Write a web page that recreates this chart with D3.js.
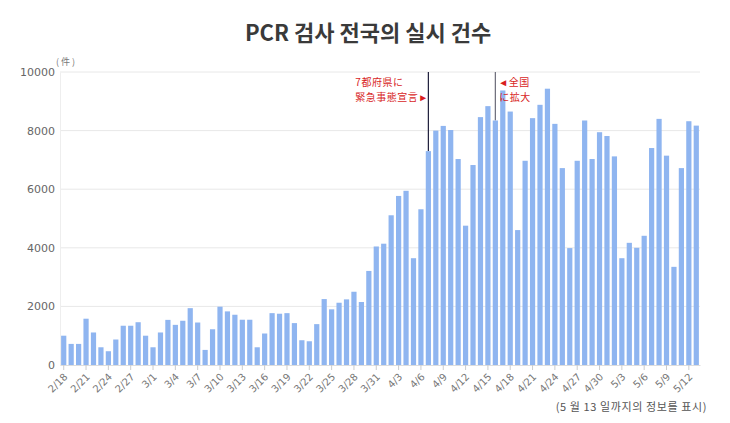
<!DOCTYPE html>
<html>
<head>
<meta charset="utf-8">
<script src="https://cdn.jsdelivr.net/npm/d3@7"></script>
<style>
  body { margin: 0; background: #fff; }
  text { font-family: "Noto Sans CJK KR", "Noto Sans", sans-serif; }
</style>
</head>
<body>
<div id="chart"></div>
<script>
// 2/18 〜 5/13 の日別件数
const startDay = new Date(2020, 1, 18);
const endDay = new Date(2020, 4, 14);
const days = d3.timeDay.range(startDay, endDay).map(d3.timeFormat("%-m/%-d"));

const counts = [
  1000, 720, 720, 1580, 1110, 605, 470, 870, 1340, 1340, 1460, 1000,
  605, 1110, 1540, 1370, 1510, 1940, 1450, 515, 1220, 1990,
  1830, 1715, 1545, 1545, 605, 1075, 1770, 1750, 1770, 1430,
  845, 810, 1395, 2250, 1900, 2125, 2240, 2500, 2150, 3210, 4045,
  4140, 5110, 5770, 5945, 3645, 5315, 7300, 8000, 8160, 8020,
  7030, 4755, 6825, 8460, 8835, 8345, 9370, 8650, 4605, 6970,
  8425, 8880, 9430, 8230, 6720, 3990, 6970, 8345, 7030, 7945,
  7815, 7120, 3645, 4170, 4000, 4410, 7405, 8400, 7145, 3350, 6720, 8320, 8170
];

const tickDays = ["2/18", "2/21", "2/24", "2/27", "3/1", "3/4", "3/7", "3/10", "3/13",
  "3/16", "3/19", "3/22", "3/25", "3/28", "3/31", "4/3", "4/6", "4/9", "4/12", "4/15",
  "4/18", "4/21", "4/24", "4/27", "4/30", "5/3", "5/6", "5/9", "5/12"];
const yTicks = [0, 2000, 4000, 6000, 8000, 10000];

const eventDays = ["4/7", "4/16"];

createChart();

function createChart() {
    const svg = d3.select("#chart").append("svg")
        .attr("width", 730)
        .attr("height", 423);

    const x = d3.scaleBand()
        .domain(days)
        .range([60, 700])
        .paddingInner(0.3)
        .paddingOuter(0.15);

    const y = d3.scaleLinear()
        .domain([0, 10000])
        .range([365, 72]);

    // タイトル
    svg.append("text")
        .attr("x", 368)
        .attr("y", 41)
        .attr("text-anchor", "middle")
        .style("font-size", "22px")
        .style("font-weight", "bold")
        .attr("fill", "#3a3a3a")
        .text("PCR 검사 전국의 실시 건수");

    // 横グリッド
    svg.append("g")
        .selectAll("line")
        .data(yTicks.filter(d => d > 0))
        .join("line")
        .attr("x1", 60).attr("x2", 700)
        .attr("y1", d => y(d)).attr("y2", d => y(d))
        .attr("stroke", "#e8e8e8");

    // y軸
    const yAxis = svg.append("g")
        .attr("transform", "translate(60,0)")
        .call(d3.axisLeft(y).tickValues(yTicks).tickSize(0).tickPadding(5).tickFormat(d3.format("d")));
    yAxis.select(".domain").attr("stroke", "#eee");
    yAxis.selectAll("text").attr("fill", "#666").style("font-size", "11px")
        .style("font-family", "'DejaVu Sans', sans-serif");

    svg.append("text")
        .attr("x", 56)
        .attr("y", 65)
        .style("font-size", "9px")
        .attr("fill", "#777")
        .text("( 件 )");

    // 縦線（イベント）
    svg.append("g")
        .selectAll("line")
        .data(eventDays)
        .join("line")
        .attr("x1", d => x(d) + x.bandwidth() / 2)
        .attr("x2", d => x(d) + x.bandwidth() / 2)
        .attr("y1", y(10000))
        .attr("y2", d => y(counts[days.indexOf(d)]))
        .attr("stroke", (d, i) => i === 0 ? "#1c1c3a" : "#6a6a78")
        .attr("stroke-width", 1.2);

    // 棒
    svg.append("g")
        .selectAll("rect")
        .data(counts)
        .join("rect")
        .attr("x", (d, i) => x(days[i]))
        .attr("y", d => y(d))
        .attr("width", x.bandwidth())
        .attr("height", d => y(0) - y(d))
        .attr("fill", "#8fb5f0");

    // x軸
    const xAxis = svg.append("g")
        .attr("transform", "translate(0,365)")
        .call(d3.axisBottom(x).tickValues(tickDays).tickSize(5).tickSizeOuter(0));
    xAxis.select(".domain").attr("stroke", "#ddd");
    xAxis.selectAll(".tick line").attr("stroke", "#ccc");
    xAxis.selectAll("text")
        .attr("fill", "#777")
        .style("font-size", "10px")
        .style("font-family", "'DejaVu Sans', sans-serif")
        .attr("text-anchor", "end")
        .attr("x", 0)
        .attr("y", 0)
        .attr("dy", "0.35em")
        .attr("transform", "translate(2,10) rotate(-45)");

    // 注記
    const note1x = x("4/7") + x.bandwidth() / 2;
    const note2x = x("4/16") + x.bandwidth() / 2;
    const notes = [
        { t: "7都府県に", x: note1x - 73, y: 86 },
        { t: "緊急事態宣言►", x: note1x - 73, y: 101 },
        { t: "◄全国", x: note2x + 3, y: 86 },
        { t: "に拡大", x: note2x + 4, y: 101 }
    ];
    svg.append("g")
        .selectAll("text")
        .data(notes)
        .join("text")
        .attr("x", d => d.x).attr("y", d => d.y)
        .style("font-size", "10px").style("letter-spacing", "0.5px")
        .style("font-family", "'Noto Sans CJK JP', sans-serif")
        .attr("fill", "#d81e1e")
        .text(d => d.t);

    // 脚注
    svg.append("text")
        .attr("x", 707)
        .attr("y", 411)
        .attr("text-anchor", "end")
        .style("font-size", "11px")
        .style("letter-spacing", "0.6px")
        .attr("fill", "#555")
        .text("(5 월 13 일까지의 정보를 표시)");
}
</script>
</body>
</html>
